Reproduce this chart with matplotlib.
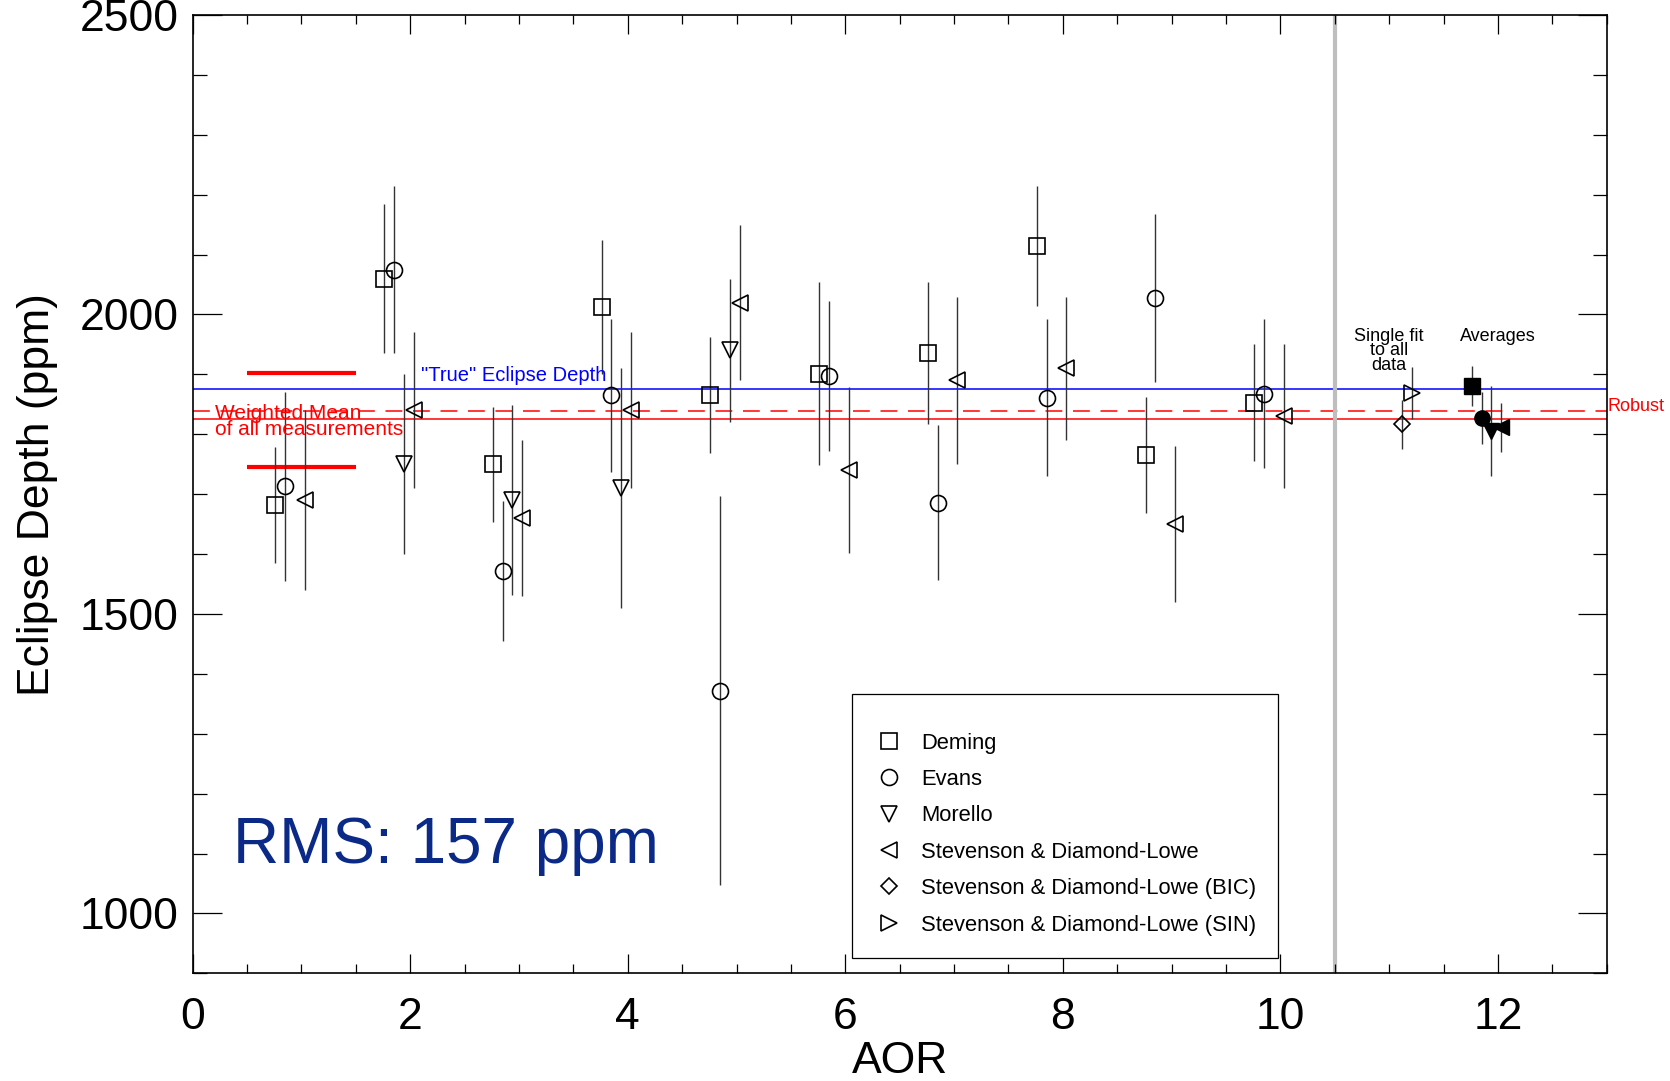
import numpy as np
import matplotlib
matplotlib.use("Agg")
import matplotlib.pyplot as plt
from matplotlib.ticker import MultipleLocator
from matplotlib.lines import Line2D

plt.rcParams['font.family'] = ['Liberation Sans', 'DejaVu Sans']

# ---- data (ppm) ----
aor = np.arange(1, 11)

deming = [1682, 2060, 1750, 2012, 1866, 1901, 1936, 2114, 1766, 1853]
deming_err = [97, 125, 96, 112, 97, 153, 118, 100, 97, 97]

evans = [1713, 2075, 1572, 1865, 1372, 1897, 1686, 1861, 2027, 1868]
evans_err = [158, 139, 117, 128, 325, 125, 129, 131, 140, 125]

morello_aor = np.array([2, 3, 4, 5])
morello = [1750, 1690, 1710, 1940]
morello_err = [150, 159, 200, 120]

stevenson = [1690, 1840, 1660, 1840, 2020, 1740, 1890, 1910, 1650, 1830]
stevenson_err = [150, 130, 130, 130, 130, 139, 139, 120, 130, 120]

# single fit to all data (BIC, SIN)
single_x = [11.12, 11.21]
single = [1817, 1869]
single_err = [41, 44]

# averages (Deming, Evans, Morello, Stevenson)
avg_x = [11.76, 11.85, 11.94, 12.03]
avg = [1881, 1827, 1806, 1812]
avg_err = [33, 43, 75, 41]

true_depth = 1875
weighted_mean = 1825
robust_mean = 1839
wm_band = [1746, 1903]
rms = 157

# ---- plot ----
fig = plt.figure(figsize=(16.7, 10.81), dpi=100)
ax = fig.add_axes([0.1154, 0.0996, 0.8467, 0.8865])

ebar = dict(fmt='none', ecolor='0.2', elinewidth=1.0, capsize=0, zorder=2)
mk = dict(ls='none', mfc='none', mec='black', mew=1.2, ms=11.5, zorder=3)

ax.errorbar(aor - 0.24, deming, yerr=deming_err, **ebar)
ax.plot(aor - 0.24, deming, marker='s', **mk)
ax.errorbar(aor - 0.15, evans, yerr=evans_err, **ebar)
ax.plot(aor - 0.15, evans, marker='o', **mk)
ax.errorbar(morello_aor - 0.06, morello, yerr=morello_err, **ebar)
ax.plot(morello_aor - 0.06, morello, marker='v', **mk)
ax.errorbar(aor + 0.03, stevenson, yerr=stevenson_err, **ebar)
ax.plot(aor + 0.03, stevenson, marker='<', **mk)

ax.errorbar(single_x, single, yerr=single_err, **ebar)
ax.plot(single_x[0], single[0], marker='D', ls='none', mfc='none', mec='black', mew=1.2, ms=8, zorder=3)
ax.plot(single_x[1], single[1], marker='>', **mk)

ax.errorbar(avg_x, avg, yerr=avg_err, **ebar)
for xx, yy, m in zip(avg_x, avg, ['s', 'o', 'v', '<']):
    ax.plot(xx, yy, marker=m, ls='none', mfc='black', mec='black', ms=11, zorder=3)

# reference lines
ax.axhline(true_depth, color='blue', lw=1.1, zorder=1)
ax.axhline(weighted_mean, color='red', lw=1.1, zorder=1)
ax.axhline(robust_mean, color='red', lw=1.1, dashes=(11, 7), zorder=1)
for b in wm_band:
    ax.plot([0.5, 1.5], [b, b], color='red', lw=3, solid_capstyle='butt', zorder=1)
ax.axvline(10.5, color='#bebebe', lw=3, zorder=1)

# note: va='baseline' on multi-line text anchors the last line
ax.text(2.095, true_depth + 8, '"True" Eclipse Depth', color='blue', fontsize=14.5, va='bottom')
ax.text(0.204, 1799, 'Weighted Mean\nof all measurements', color='red',
        fontsize=15, va='baseline', linespacing=0.8)
ax.text(13.005, robust_mean, 'Robust', color='red', fontsize=13, va='baseline', clip_on=False)
ax.text(11.0, 1908, 'Single fit\nto all\ndata', fontsize=13, ha='center', va='baseline', linespacing=0.8)
ax.text(12.0, 1956, 'Averages', fontsize=13, ha='center', va='baseline')
ax.text(0.373, 1084, 'RMS: %d ppm' % rms, color='#0b2a88', fontsize=46, va='baseline')

# legend
handles = [
    Line2D([], [], marker='s', ls='none', mfc='none', mec='black', mew=1.2, ms=11.5),
    Line2D([], [], marker='o', ls='none', mfc='none', mec='black', mew=1.2, ms=11.5),
    Line2D([], [], marker='v', ls='none', mfc='none', mec='black', mew=1.2, ms=11.5),
    Line2D([], [], marker='<', ls='none', mfc='none', mec='black', mew=1.2, ms=11.5),
    Line2D([], [], marker='D', ls='none', mfc='none', mec='black', mew=1.2, ms=8),
    Line2D([], [], marker='>', ls='none', mfc='none', mec='black', mew=1.2, ms=11.5),
]
labels = ['Deming', 'Evans', 'Morello', 'Stevenson & Diamond-Lowe',
          'Stevenson & Diamond-Lowe (BIC)', 'Stevenson & Diamond-Lowe (SIN)']
leg = ax.legend(handles, labels, loc='upper left', bbox_to_anchor=(0.4663, 0.2915),
                borderaxespad=0, prop={'size': 15.8}, frameon=True, fancybox=False,
                edgecolor='black', framealpha=1, borderpad=1.02, labelspacing=0.7,
                handlelength=1.35, handletextpad=0.77, title=' ', title_fontsize=1)
leg.get_frame().set_linewidth(0.9)

ax.set_xlim(0, 13)
ax.set_ylim(900, 2500)
ax.set_xticks([0, 2, 4, 6, 8, 10, 12])
ax.set_yticks([1000, 1500, 2000, 2500])
ax.xaxis.set_minor_locator(MultipleLocator(0.5))
ax.yaxis.set_minor_locator(MultipleLocator(100))
ax.tick_params(direction='in', top=True, right=True, labelsize=32, width=0.9)
ax.tick_params(axis='y', which='major', length=21, pad=10)
ax.tick_params(axis='y', which='minor', length=10, width=0.9, direction='in', right=True)
ax.tick_params(axis='x', which='major', length=13.7, pad=17)
ax.tick_params(axis='x', which='minor', length=6.5, width=0.9, direction='in', top=True)
for s in ax.spines.values():
    s.set_linewidth(1.2)

ax.set_xlabel('AOR', fontsize=32, labelpad=2)
ax.set_ylabel('Eclipse Depth (ppm)', fontsize=32, labelpad=16)

fig.savefig('out.png', dpi=100)
